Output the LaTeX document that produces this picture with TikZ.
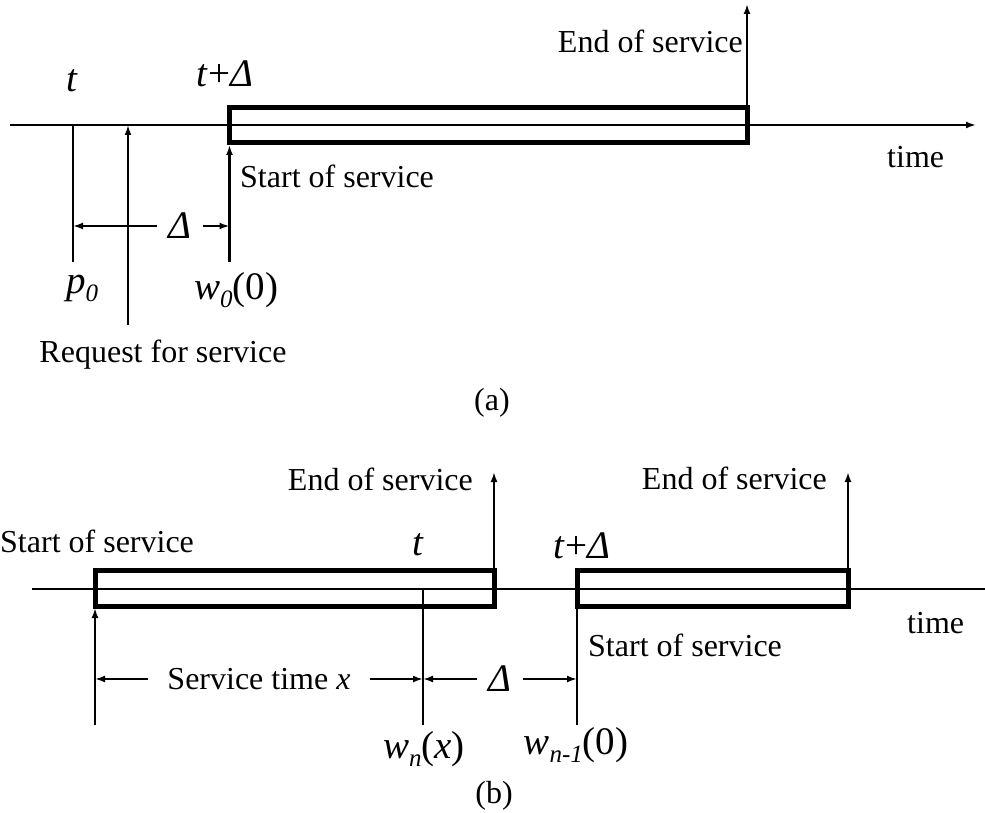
\documentclass[tikz,border=0pt]{standalone}
\usepackage{fontspec}
\setmainfont{Liberation Serif}
\usepackage{tikz}
\usetikzlibrary{arrows.meta}
\newcommand{\lowidx}[1]{\raisebox{-0.45ex}{\fontsize{25}{25}\selectfont\textit{#1}}}
\tikzset{
  lbl/.style={font=\fontsize{32}{36}\selectfont, inner sep=0pt},
  sym/.style={font=\fontsize{39}{42}\selectfont, inner sep=0pt},
  gap/.style={inner xsep=11pt, inner ysep=0pt},
  axisline/.style={line width=2.8pt},
  tickline/.style={line width=2.8pt},
  box/.style={line width=5pt},
  arr/.style={line width=2.8pt, -{Latex[length=10pt,width=7pt]}},
}
\begin{document}
\begin{tikzpicture}[x=1pt,y=-1pt]
  \useasboundingbox (0,0) rectangle (985,813);
  % (a)
  \coordinate (axA0) at (10,125);
  \coordinate (axA1) at (976,125);
  \draw[axisline,-{Latex[length=10pt,width=7pt]}] (axA0) -- (axA1);
  \draw[box] (229.5,107.5) coordinate (boxAnw) rectangle (747,142.5) coordinate (boxAse);
  \coordinate (endA) at (747,4);
  \draw[arr] (boxAse |- boxAnw) -- (endA);
  \node[lbl, anchor=base east] (endAlbl) at (743,53) {End of service};
  \node[lbl, anchor=base west] (timeA) at (887,168) {time};
  \node[sym, anchor=base] (tA) at (72,92) {\textit{t}};
  \node[sym, anchor=base] (tdA) at (225,87) {\textit{t}+\textit{Δ}};
  \coordinate (pA0) at (73,125);
  \coordinate (pA1) at (73,262);
  \draw[tickline] (pA0) -- (pA1);
  \coordinate (reqA0) at (128,325);
  \coordinate (reqA1) at (128,125);
  \draw[arr] (reqA0) -- (reqA1);
  \coordinate (startA0) at (229.5,262);
  \coordinate (startA1) at (229.5,145);
  \draw[arr] (startA0) -- (startA1);
  \node[sym, gap] (deltaA) at (180,226) {\textit{Δ}};
  \draw[arr] (deltaA.west) -- (deltaA.west -| pA0);
  \draw[arr] (deltaA.east) -- (deltaA.east -| startA0);
  \node[lbl, anchor=base west] (startAlbl) at (240,188) {Start of service};
  \node[sym, anchor=base] (pAlbl) at (82,293) {\textit{p}\lowidx{0}};
  \node[sym, anchor=base] (wAlbl) at (236,299) {\textit{w}\lowidx{0}(0)};
  \node[lbl, anchor=base] (reqAlbl) at (163,362) {Request for service};
  \node[lbl, anchor=base] (capA) at (492,410) {(a)};
  % (b)
  \coordinate (axB0) at (32,589);
  \coordinate (axB1) at (985,589);
  \draw[axisline] (axB0) -- (axB1);
  \draw[box] (95,570) coordinate (boxBnw) rectangle (494,606) coordinate (boxBse);
  \draw[box] (577,570) coordinate (boxCnw) rectangle (848,606) coordinate (boxCse);
  \coordinate (endB) at (494,472);
  \coordinate (endC) at (848,472);
  \draw[arr] (boxBse |- boxBnw) -- (endB);
  \draw[arr] (boxCse |- boxCnw) -- (endC);
  \node[lbl, anchor=base east] (endBlbl) at (473,490) {End of service};
  \node[lbl, anchor=base east] (endClbl) at (827,489) {End of service};
  \node[lbl, anchor=base west] (startBlbl) at (0,552) {Start of service};
  \node[sym, anchor=base] (tB) at (418,555) {\textit{t}};
  \node[sym, anchor=base] (tdB) at (582,558) {\textit{t}+\textit{Δ}};
  \coordinate (startB0) at (95,725);
  \coordinate (startB1) at (95,608);
  \draw[arr] (startB0) -- (startB1);
  \coordinate (wB0) at (423,589);
  \coordinate (wB1) at (423,725);
  \draw[tickline] (wB0) -- (wB1);
  \coordinate (startC0) at (577,606);
  \coordinate (startC1) at (577,725);
  \draw[tickline] (startC0) -- (startC1);
  \node[lbl, inner xsep=19pt, inner ysep=0pt] (servB) at (259,679) {Service time \textit{x}};
  \draw[arr] (servB.west) -- (servB.west -| startB0);
  \draw[arr] (servB.east) -- (servB.east -| wB0);
  \node[sym, gap] (deltaB) at (500,679) {\textit{Δ}};
  \draw[arr] (deltaB.west) -- (deltaB.west -| wB0);
  \draw[arr] (deltaB.east) -- (deltaB.east -| startC0);
  \node[sym, anchor=base] (wBlbl) at (424,758) {\textit{w}\lowidx{n}(\textit{x})};
  \node[sym, anchor=base] (wClbl) at (576,754) {\textit{w}\lowidx{n-1}(0)};
  \node[lbl, anchor=base west] (startClbl) at (588,656) {Start of service};
  \node[lbl, anchor=base west] (timeB) at (907,633) {time};
  \node[lbl, anchor=base] (capB) at (494,803) {(b)};
\end{tikzpicture}
\end{document}
